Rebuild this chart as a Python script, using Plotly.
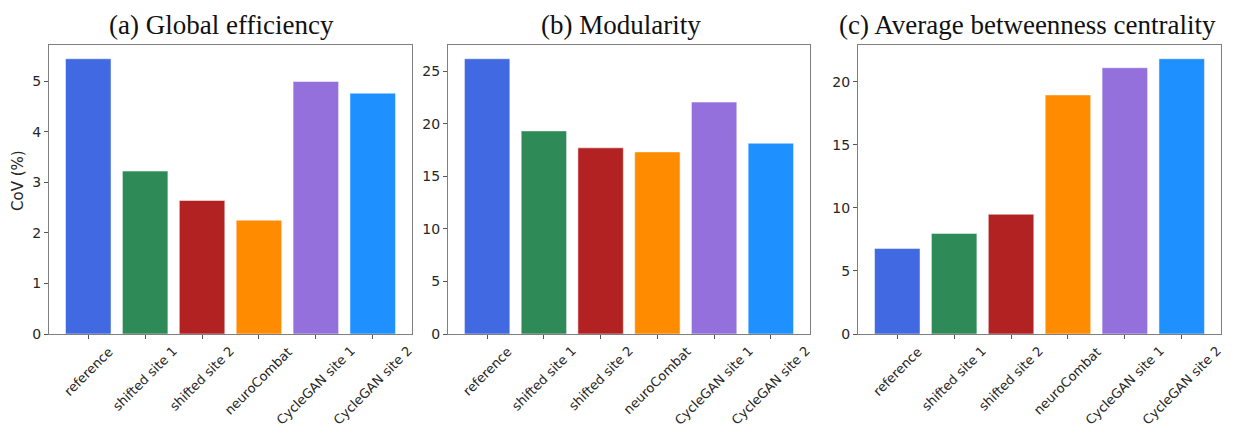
import plotly.graph_objects as go

categories = ["reference", "shifted site 1", "shifted site 2", "neuroCombat",
              "CycleGAN site 1", "CycleGAN site 2"]
colors = ["#4169E1", "#2E8B57", "#B22222", "#FF8C00", "#9370DB", "#1E90FF"]

global_eff = [5.44, 3.22, 2.64, 2.25, 4.99, 4.76]
modularity = [26.17, 19.31, 17.70, 17.31, 22.05, 18.14]
betweenness = [6.79, 7.98, 9.50, 18.96, 21.12, 21.83]

titles = ["(a) Global efficiency", "(b) Modularity", "(c) Average betweenness centrality"]
series = [global_eff, modularity, betweenness]
yticks = [[0, 1, 2, 3, 4, 5], [0, 5, 10, 15, 20, 25], [0, 5, 10, 15, 20]]

# page body has an 8px margin: work in screen pixels, shift by OFF
OFF = 8
W, H = 1233 - OFF, 428 - OFF
xdom_px = [(49, 412), (448, 810), (858, 1221)]
y_top, y_bot = 45, 334
title_x_px = [221, 621, 1027]


def px(x):
    return (x - OFF) / W


def py(y):
    return 1 - (y - OFF) / H


fig = go.Figure()
for i, vals in enumerate(series):
    ax = "" if i == 0 else str(i + 1)
    fig.add_trace(go.Bar(
        x=categories, y=vals, marker=dict(color=colors,
                                          line=dict(color="rgba(255,255,255,0.5)", width=1)),
        xaxis="x" + ax, yaxis="y" + ax, showlegend=False, width=0.8))
    ymax = max(vals) * 1.05
    common = dict(showline=True, linecolor="#7f7f7f", linewidth=1, mirror=True,
                  ticks="outside", ticklen=4, tickcolor="#555555", showgrid=False,
                  zeroline=False, automargin=False,
                  tickfont=dict(family="DejaVu Sans", size=14, color="#262626"))
    fig.update_layout(**{
        "xaxis" + ax: dict(domain=[px(xdom_px[i][0]), px(xdom_px[i][1])],
                           anchor="y" + ax, range=[-0.69, 5.69],
                           type="category", showticklabels=False, **common),
        "yaxis" + ax: dict(domain=[py(y_bot), py(y_top)],
                           anchor="x" + ax, range=[0, ymax], tickvals=yticks[i], **common),
    })
    for c in categories:
        fig.add_annotation(text=c, x=c, y=py(341), xref="x" + ax, yref="paper",
                           showarrow=False, textangle=-45, xanchor="center", yanchor="top",
                           font=dict(family="DejaVu Sans", size=13, color="#262626"))
    fig.add_annotation(text=titles[i], x=px(title_x_px[i]), y=py(9),
                       xref="paper", yref="paper", showarrow=False,
                       xanchor="center", yanchor="top", borderpad=0,
                       font=dict(family="Liberation Serif", size=27, color="#111111"))

fig.add_annotation(text="CoV (%)", x=px(18), y=py(181), xref="paper", yref="paper",
                   showarrow=False, textangle=-90, xanchor="center", yanchor="middle",
                   font=dict(family="DejaVu Sans", size=15, color="#262626"))

fig.update_layout(width=W, height=H, margin=dict(l=0, r=0, t=0, b=0),
                  plot_bgcolor="white", paper_bgcolor="white", bargap=0.2)
fig.write_html("out.html")
